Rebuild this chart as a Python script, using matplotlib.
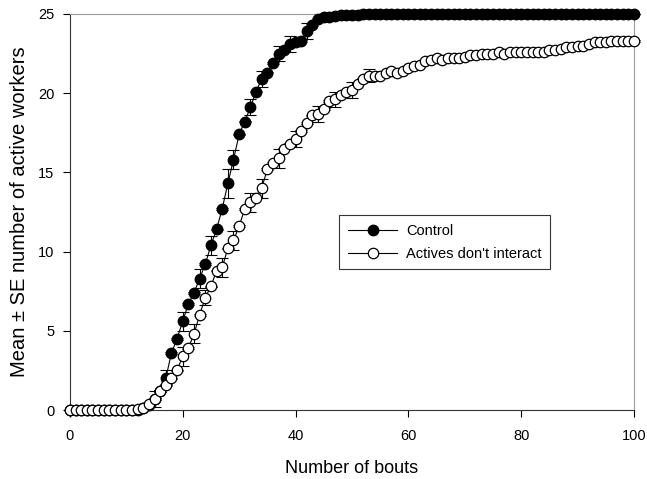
import numpy as np
import matplotlib.pyplot as plt
from matplotlib.lines import Line2D

plt.rcParams['font.family'] = ['Liberation Sans', 'DejaVu Sans']

bouts = list(range(0, 101))

control = [0] * 12 + [
    0.02, 0.1, 0.3, 0.7, 1.2,            # 12-16
    2.0, 3.6, 4.5, 5.6, 6.7,             # 17-21
    7.4, 8.3, 9.2, 10.4, 11.4,           # 22-26
    12.7, 14.3, 15.8, 17.4, 18.2,        # 27-31
    19.1, 20.1, 20.9, 21.3, 21.9,        # 32-36
    22.5, 22.7, 23.1, 23.2, 23.3,        # 37-41
    23.9, 24.3, 24.7, 24.8, 24.8,        # 42-46
    24.85, 24.9, 24.9, 24.9, 24.95,      # 47-51
] + [25.0] * 49

control_se = [0] * 12 + [
    0.02, 0.05, 0.05, 0.05, 0.05,
    0.5, 0.05, 0.05, 0.6, 0.05,
    0.05, 0.6, 0.05, 0.6, 0.05,
    0.05, 0.9, 0.6, 0.05, 0.05,
    0.5, 0.05, 0.5, 0.05, 0.05,
    0.5, 0.05, 0.5, 0.05, 0.05,
    0.5, 0.05, 0.05, 0.05, 0.05,
    0.05, 0.05, 0.05, 0.05, 0.05,
] + [0.0] * 49

no_interact = [0] * 12 + [
    0.05, 0.15, 0.4, 0.7, 1.2,           # 12-16
    1.6, 2.0, 2.5, 3.4, 3.9,             # 17-21
    4.8, 6.0, 7.1, 7.8, 8.8,             # 22-26
    9.0, 10.2, 10.7, 11.6, 12.7,         # 27-31
    13.1, 13.4, 14.0, 15.2, 15.6,        # 32-36
    15.9, 16.5, 16.8, 17.1, 17.6,        # 37-41
    18.1, 18.6, 18.7, 19.0, 19.5,        # 42-46
    19.6, 19.9, 20.1, 20.2, 20.6,        # 47-51
    20.9, 21.1, 21.1, 21.1, 21.3,        # 52-56
    21.4, 21.3, 21.4, 21.6, 21.7,        # 57-61
    21.8, 22.0, 22.1, 22.2, 22.1,        # 62-66
    22.2, 22.2, 22.2, 22.3, 22.4,        # 67-71
    22.4, 22.5, 22.5, 22.5, 22.6,        # 72-76
    22.5, 22.6, 22.6, 22.6, 22.6,        # 77-81
    22.6, 22.6, 22.6, 22.7, 22.7,        # 82-86
    22.8, 22.9, 22.9, 23.0, 23.0,        # 87-91
    23.1, 23.2, 23.2, 23.2, 23.3,        # 92-96
    23.3, 23.3, 23.3, 23.3,              # 97-100
]

no_interact_se = [0] * 12 + [
    0.05, 0.05, 0.05, 0.5, 0.05,
    0.05, 0.05, 0.05, 0.6, 0.05,
    0.6, 0.05, 0.5, 0.05, 0.05,
    0.6, 0.05, 0.6, 0.05, 0.05,
    0.6, 0.05, 0.6, 0.05, 0.05,
    0.6, 0.05, 0.05, 0.5, 0.05,
    0.05, 0.05, 0.5, 0.05, 0.05,
    0.5, 0.05, 0.05, 0.5, 0.05,
    0.05, 0.4, 0.05, 0.05, 0.05,
] + [0.05] * 44

fig = plt.figure(figsize=(6.47, 4.79), dpi=100)
ax = fig.add_axes([0.108, 0.144, 0.872, 0.827])

# error bars underneath, markers drawn on top so small SEs hide behind them
ax.errorbar(bouts, control, yerr=control_se, fmt='none', ecolor='black',
            elinewidth=0.8, capsize=4, capthick=0.8, clip_on=False, zorder=2)
ax.errorbar(bouts, no_interact, yerr=no_interact_se, fmt='none', ecolor='black',
            elinewidth=0.8, capsize=4, capthick=0.8, clip_on=False, zorder=2)
ax.plot(bouts, control, '-o', color='black', mfc='black', mec='black',
        ms=7.5, lw=0.8, clip_on=False, zorder=3)
ax.plot(bouts, no_interact, '-o', color='black', mfc='white', mec='black',
        ms=7.5, mew=0.9, lw=0.8, clip_on=False, zorder=4)

ax.set_xlim(0, 100)
ax.set_ylim(0, 25)
ax.set_xticks([0, 20, 40, 60, 80, 100])
ax.set_yticks([0, 5, 10, 15, 20, 25])
ax.tick_params(direction='out', length=5, width=0.8, labelsize=10.5, pad=6)
ax.tick_params(axis='x', pad=9)
for side in ['top', 'right']:
    ax.spines[side].set_color('#9a9a9a')
for side in ['left', 'bottom']:
    ax.spines[side].set_color('#333333')

ax.set_xlabel('Number of bouts', fontsize=13, labelpad=12)
ax.set_ylabel('Mean \u00b1 SE number of active workers', fontsize=14.5, labelpad=7)

handles = [
    Line2D([], [], color='black', lw=0.8, marker='o', ms=7.5, mfc='black', mec='black'),
    Line2D([], [], color='black', lw=0.8, marker='o', ms=7.5, mfc='white', mec='black', mew=0.9),
]
leg = ax.legend(handles, ['Control', "Actives don't interact"],
                loc='upper left', bbox_to_anchor=(0.477, 0.492), borderaxespad=0,
                fontsize=10.5, frameon=True, fancybox=False, edgecolor='black',
                handlelength=3.4, handletextpad=0.6, borderpad=0.6, labelspacing=0.6)
leg.get_frame().set_linewidth(0.8)

fig.savefig('out.png', dpi=100)
